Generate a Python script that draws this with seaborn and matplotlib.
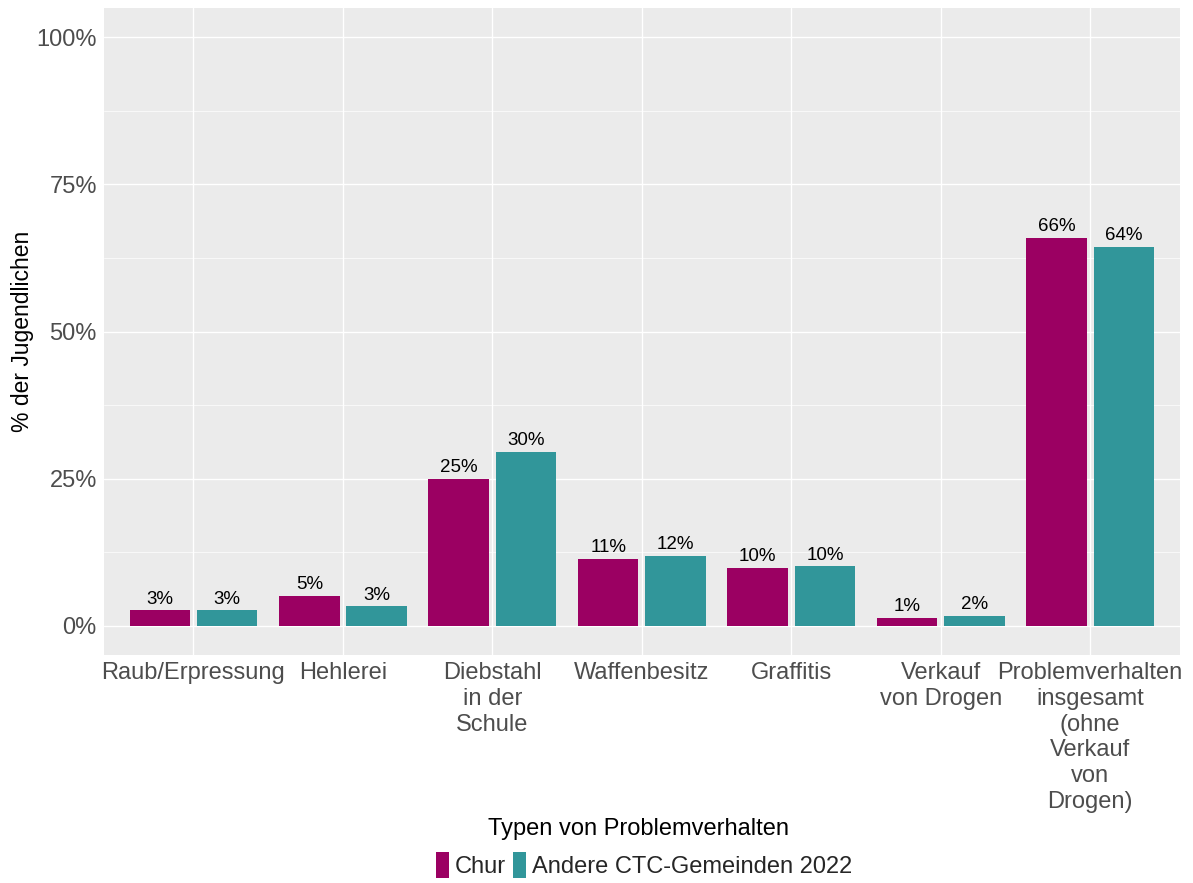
import pandas as pd
import numpy as np
import seaborn as sns
import matplotlib.pyplot as plt
from matplotlib.patches import Patch
from matplotlib.ticker import MultipleLocator, FuncFormatter

categories = ["Raub/Erpressung", "Hehlerei", "Diebstahl\nin der\nSchule", "Waffenbesitz",
              "Graffitis", "Verkauf\nvon Drogen",
              "Problemverhalten\ninsgesamt\n(ohne\nVerkauf\nvon\nDrogen)"]
groups = ["Chur", "Andere CTC-Gemeinden 2022"]
chur = [2.6, 5.1, 25.0, 11.4, 9.9, 1.4, 65.9]
andere = [2.6, 3.3, 29.6, 11.9, 10.1, 1.7, 64.4]
colors = ["#9B0062", "#31969A"]

df = pd.DataFrame({
    "kategorie": categories * 2,
    "gruppe": [groups[0]] * len(categories) + [groups[1]] * len(categories),
    "wert": chur + andere,
})

sns.set_theme(style="darkgrid")
plt.rcParams['font.family'] = ['Liberation Sans', 'DejaVu Sans']

fig, ax = plt.subplots(figsize=(11.93, 8.83), dpi=100)
fig.subplots_adjust(left=0.087, right=0.989, top=0.991, bottom=0.258)
ax.set_facecolor("#EBEBEB")

sns.barplot(data=df, x="kategorie", y="wert", hue="gruppe", palette=colors,
            width=0.9, gap=0.1, ax=ax, legend=False, saturation=1, zorder=3,
            linewidth=0)

for c in ax.containers:
    ax.bar_label(c, labels=[f"{round(v.get_height()):.0f}%" for v in c],
                 padding=2, fontsize=13.5, color="black")

ax.set_ylim(-5, 105)
ax.set_xlim(-0.6, len(categories) - 0.4)
ax.yaxis.set_major_locator(MultipleLocator(25))
ax.yaxis.set_minor_locator(MultipleLocator(12.5))
ax.yaxis.set_major_formatter(FuncFormatter(lambda v, p: f"{v:.0f}%"))
ax.grid(which="major", color="white", linewidth=1.0)
ax.grid(which="minor", axis="y", color="white", linewidth=0.5)
ax.set_axisbelow(True)
for s in ax.spines.values():
    s.set_visible(False)

ax.tick_params(axis="both", which="major", labelsize=17, labelcolor="#4D4D4D",
               length=3, color="#333333", pad=2)
ax.tick_params(axis="y", which="minor", length=0)
for t in ax.get_xticklabels():
    t.set_linespacing(1.22)
ax.set_xlabel("Typen von Problemverhalten", fontsize=17, color="black")
ax.set_ylabel("% der Jugendlichen", fontsize=16.5, color="black", va="center")
ax.yaxis.set_label_coords(-0.076, 0.5)
ax.xaxis.set_label_coords(0.497, -0.252)

handles = [Patch(facecolor=colors[i], edgecolor="none", label=groups[i]) for i in range(2)]
fig.legend(handles=handles, loc="center", bbox_to_anchor=(0.54, 0.02), ncol=2,
           frameon=False, fontsize=17, handlelength=0.55, handleheight=1.3,
           handletextpad=0.25, columnspacing=0.3)

fig.savefig("out.png", dpi=100)
